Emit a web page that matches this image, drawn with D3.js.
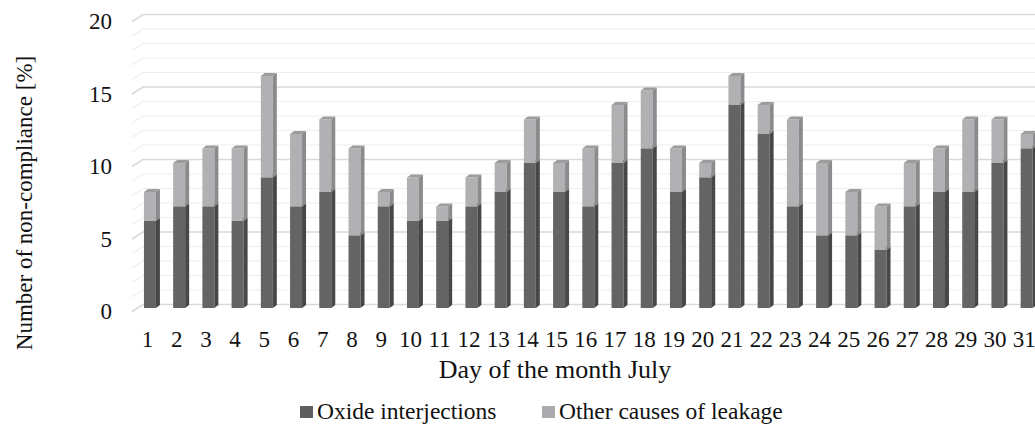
<!DOCTYPE html>
<html>
<head>
<meta charset="utf-8">
<script src="https://cdn.jsdelivr.net/npm/d3@7.9.0/dist/d3.min.js"></script>
<style>
  body { margin: 0; background: #fff; }
  svg { display: block; }
</style>
</head>
<body>
<svg width="1035" height="426"></svg>
<script>
// data
const days = ["1","2","3","4","5","6","7","8","9","10","11","12","13","14","15","16",
  "17","18","19","20","21","22","23","24","25","26","27","28","29","30","31"];
const oxide = [6,7,7,6,9,7,8,5,7,6,6,7,8,10,8,7,10,11,8,9,14,12,7,5,5,4,7,8,8,10,11];
const other = [2,3,4,5,7,5,5,6,1,3,1,2,2,3,2,4,4,4,3,1,2,2,6,5,3,3,3,3,5,3,1];
const seriesNames = ["Oxide interjections", "Other causes of leakage"];
const yTicks = [0,5,10,15,20];

const FONT = "'Liberation Serif', 'Times New Roman', serif";

const rows = days.map((d, i) => ({ day: d, oxide: oxide[i], other: other[i] }));
const stacked = d3.stack().keys(["oxide", "other"])(rows);

const svg = d3.select("svg");

const y = d3.scaleLinear().domain([0, 20]).range([304.5, 14.5]);
const x = d3.scaleBand().domain(days).range([143.6, 1044])
  .paddingInner(0.59).paddingOuter(0.2);

// 3d offsets
const wall = { dx: -11, dy: 7 };   // depth of the side wall
const front = { dx: -5.5, dy: 3.5 }; // bar front face vs back wall
const depth = { dx: 4, dy: -3 };   // bar depth

// gridlines on back wall + side wall
const grid = svg.append("g");
d3.range(0, 21).forEach(v => {
  const yy = y(v);
  grid.append("path")
    .attr("d", `M${143 + wall.dx},${yy + wall.dy}L143,${yy}L1035,${yy}`)
    .attr("fill", "none")
    .attr("stroke", v % 5 === 0 ? "#d9d9d9" : "#eeeeee")
    .attr("stroke-width", v % 5 === 0 ? 1.6 : 1.2);
});

const colors = {
  oxide: { front: "#646464", side: "#474747", top: "#555555" },
  other: { front: "#b1b1b3", side: "#8b8b8d", top: "#9c9c9e" }
};

const bars = svg.append("g");
const w = x.bandwidth();
days.forEach((d, i) => {
  stacked.forEach(s => {
    const c = colors[s.key];
    const seg = s[i];
    const x0 = x(d) + front.dx;
    const yt = y(seg[1]) + front.dy;
    const yb = y(seg[0]) + front.dy;
    bars.append("rect")
      .attr("x", x0).attr("y", yt)
      .attr("width", w).attr("height", yb - yt)
      .attr("fill", c.front);
    bars.append("path")
      .attr("d", `M${x0 + w},${yt}L${x0 + w + depth.dx},${yt + depth.dy}L${x0 + w + depth.dx},${yb + depth.dy}L${x0 + w},${yb}Z`)
      .attr("fill", c.side);
    bars.append("path")
      .attr("d", `M${x0},${yt}L${x0 + depth.dx},${yt + depth.dy}L${x0 + w + depth.dx},${yt + depth.dy}L${x0 + w},${yt}Z`)
      .attr("fill", c.top);
  });
});

// axes
const yAxis = svg.append("g")
  .attr("transform", `translate(115,${wall.dy})`)
  .call(d3.axisLeft(y).tickValues(yTicks).tickSize(0).tickPadding(3));
yAxis.select(".domain").remove();
yAxis.selectAll("text")
  .style("font-family", FONT).style("font-size", "23px").attr("fill", "#111");

const xAxis = svg.append("g")
  .attr("transform", "translate(-8,331)")
  .call(d3.axisBottom(x).tickSize(0).tickPadding(0));
xAxis.select(".domain").remove();
xAxis.selectAll("text")
  .style("font-family", FONT).style("font-size", "23px").attr("fill", "#111");

svg.append("text")
  .attr("x", 555).attr("y", 378)
  .attr("text-anchor", "middle")
  .style("font-family", FONT).style("font-size", "26px").attr("fill", "#111")
  .text("Day of the month July");

svg.append("text")
  .attr("transform", "translate(32,203) rotate(-90)")
  .attr("text-anchor", "middle")
  .style("font-family", FONT).style("font-size", "23px").attr("fill", "#111")
  .text("Number of non-compliance [%]");

// legend
const legend = svg.append("g");
const legendX = [300, 542];
const legendFill = ["#5f5f5f", "#ababad"];
seriesNames.forEach((name, i) => {
  legend.append("rect")
    .attr("x", legendX[i]).attr("y", 406)
    .attr("width", 13).attr("height", 12)
    .attr("fill", legendFill[i]);
  legend.append("text")
    .attr("x", legendX[i] + 17).attr("y", 419)
    .style("font-family", FONT).style("font-size", "23.5px").attr("fill", "#111")
    .text(name);
});
</script>
</body>
</html>
